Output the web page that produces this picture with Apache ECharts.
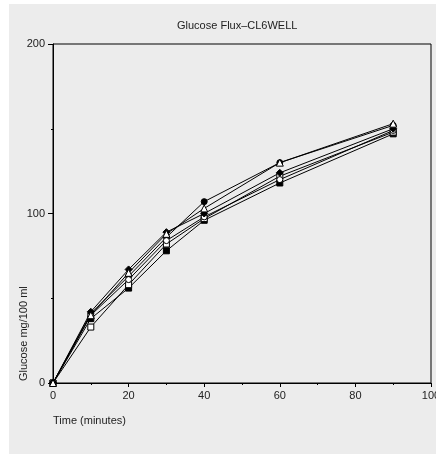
<!DOCTYPE html>
<html>
<head>
<meta charset="utf-8">
<script src="https://cdn.jsdelivr.net/npm/echarts@6/dist/echarts.min.js"></script>
<style>
    html, body { margin: 0; padding: 0; background: #fff; }
    #main { width: 436px; height: 455px; }
</style>
</head>
<body>
<div id="main"></div>
<script>
// time points (minutes)
const times = [0, 10, 20, 30, 40, 60, 90];

// glucose mg/100 ml, one array per well
const wellA = [0, 38, 56, 78, 96, 118, 147];
const wellB = [0, 33, 58, 82, 97, 122, 148];
const wellC = [0, 41, 63, 86, 107, 130, 152];
const wellD = [0, 40, 61, 84, 98, 120, 149];
const wellE = [0, 42, 67, 89, 100, 124, 150];
const wellF = [0, 40, 65, 88, 103, 130, 153];

const yTicks = [0, 100, 200];
const xTicks = [0, 20, 40, 60, 80, 100];

const pairs = (ys) => times.map((t, i) => [t, ys[i]]);

const makeSeries = (name, ys, symbol, fill) => ({
    name: name,
    type: 'line',
    data: pairs(ys),
    symbol: symbol,
    symbolSize: symbol === 'triangle' || symbol === 'diamond' ? 7 : 6,
    showAllSymbol: true,
    lineStyle: { color: '#000', width: 1 },
    itemStyle: { color: fill, borderColor: '#000', borderWidth: 1 },
    emphasis: { disabled: true },
    z: 3
});

const chartInit = () => {
    var chartDom = document.getElementById('main');
    var myChart = echarts.init(chartDom, null, { renderer: 'canvas' });
    var option;

    option = {
        animation: false,
        backgroundColor: '#fff',
        textStyle: { fontFamily: 'Liberation Sans' },
        title: {
            text: 'Glucose Flux\u2013CL6WELL',
            left: 172,
            top: 15,
            textStyle: { fontSize: 11, fontWeight: 'normal', color: '#222', fontFamily: 'Liberation Sans' }
        },
        graphic: [
            {
                type: 'rect',
                z: -10,
                silent: true,
                shape: { x: 9, y: 4, width: 427, height: 450 },
                style: { fill: '#ececec' }
            },
            {
                type: 'text',
                x: 24,
                y: 381,
                rotation: Math.PI / 2,
                style: {
                    text: 'Glucose mg/100 ml',
                    fill: '#222',
                    font: '11px "Liberation Sans"',
                    align: 'left',
                    verticalAlign: 'middle'
                }
            },
            {
                type: 'text',
                x: 53,
                y: 421,
                style: {
                    text: 'Time (minutes)',
                    fill: '#222',
                    font: '11px "Liberation Sans"',
                    align: 'left',
                    verticalAlign: 'middle'
                }
            }
        ],
        grid: {
            left: 53,
            right: 5,
            top: 44,
            bottom: 72,
            outerBoundsMode: 'none',
            containLabel: false,
            show: true,
            borderColor: '#000',
            borderWidth: 1,
            backgroundColor: 'transparent'
        },
        xAxis: {
            type: 'value',
            min: xTicks[0],
            max: xTicks[xTicks.length - 1],
            interval: 20,
            axisLine: { lineStyle: { color: '#000', width: 1 } },
            axisTick: { show: true, length: 4, lineStyle: { color: '#000' } },
            minorTick: { show: true, splitNumber: 2, length: 2, lineStyle: { color: '#000' } },
            splitLine: { show: false },
            axisLabel: { color: '#222', fontSize: 11, margin: 7, showMaxLabel: true }
        },
        yAxis: {
            type: 'value',
            min: yTicks[0],
            max: yTicks[yTicks.length - 1],
            interval: 100,
            axisLine: { show: true, lineStyle: { color: '#000', width: 1 } },
            axisTick: { show: true, length: 5, lineStyle: { color: '#000' } },
            minorTick: { show: true, splitNumber: 2, length: 2, lineStyle: { color: '#000' } },
            splitLine: { show: false },
            axisLabel: { color: '#222', fontSize: 11, margin: 8 }
        },
        series: [
            makeSeries('A', wellA, 'rect', '#000'),
            makeSeries('B', wellB, 'rect', '#fff'),
            makeSeries('C', wellC, 'circle', '#000'),
            makeSeries('D', wellD, 'circle', '#fff'),
            makeSeries('E', wellE, 'diamond', '#000'),
            makeSeries('F', wellF, 'triangle', '#fff')
        ]
    };

    option && myChart.setOption(option);
};

chartInit();
</script>
</body>
</html>
